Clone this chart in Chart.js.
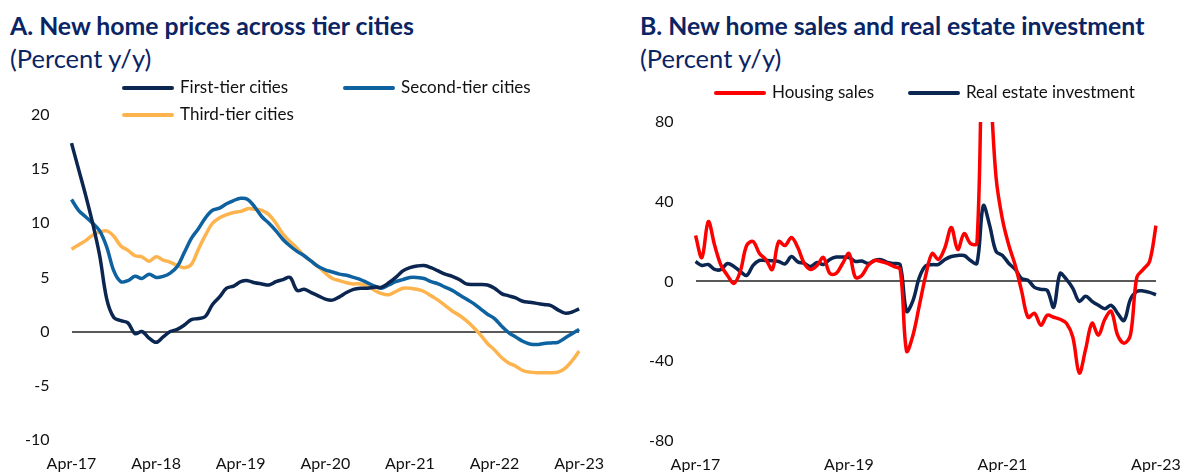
<!DOCTYPE html>
<html>
<head>
<meta charset="utf-8">
<script src="https://cdn.jsdelivr.net/npm/chart.js@4.4.1/dist/chart.umd.min.js"></script>
<style>
  html, body { margin: 0; padding: 0; background: #fff; overflow: hidden; }
  body { width: 1180px; height: 472px; position: relative; font-family: Lato, "Noto Sans", sans-serif; }
  .title { position: absolute; color: #0B2464; font-weight: 700; font-size: 24.8px; white-space: nowrap; line-height: 1; }
  .sub { position: absolute; color: #0B2464; font-size: 25.5px; white-space: nowrap; line-height: 1; }
  canvas { position: absolute; top: 0; }
  .leg { position: absolute; font-size: 17px; color: #111; white-space: nowrap; line-height: 1; }
  .leg span.swatch { display: inline-block; width: 52px; height: 4px; border-radius: 2px; vertical-align: middle; margin-right: 6px; position: relative; top: -1px; }
</style>
</head>
<body>
<div class="title" style="left:10px; top:14px;">A. New home prices across tier cities</div>
<div class="sub" style="left:10px; top:46px;">(Percent y/y)</div>
<div class="title" style="left:640px; top:14px;">B. New home sales and real estate investment</div>
<div class="sub" style="left:640px; top:46px;">(Percent y/y)</div>

<canvas id="chartA" width="610" height="479" style="left:0px;"></canvas>
<canvas id="chartB" width="580" height="480" style="left:620px;"></canvas>

<script>
// Monthly categories, Apr-17 .. Apr-23
const monthNames = ['Jan', 'Feb', 'Mar', 'Apr', 'May', 'Jun', 'Jul', 'Aug', 'Sep', 'Oct', 'Nov', 'Dec'];
const months = [];
for (let y = 17; y <= 23; y++) {
  for (let m = 0; m < 12; m++) {
    if ((y === 17 && m < 3) || (y === 23 && m > 3)) continue;
    months.push(monthNames[m] + '-' + y);
  }
}

// Panel A: new home prices (percent y/y)
const firstTier = [
  17.4, 15.0, 12.6, 10.0, 7.0, 3.0, 1.3, 1.0, 0.8, -0.2, 0.0, -0.6,
  -1.0, -0.5, 0.0, 0.2, 0.6, 1.1, 1.2, 1.4, 2.5, 3.2, 4.0, 4.2,
  4.6, 4.7, 4.5, 4.4, 4.3, 4.6, 4.8, 5.0, 3.8, 3.9, 3.6, 3.3,
  3.0, 2.9, 3.2, 3.6, 3.9, 4.0, 4.0, 4.1, 4.1, 4.5, 5.0, 5.6,
  5.9, 6.05, 6.1, 5.9, 5.6, 5.3, 5.1, 4.8, 4.4, 4.35, 4.35, 4.3,
  4.0, 3.5, 3.3, 3.1, 2.8, 2.7, 2.6, 2.5, 2.4, 2.0, 1.7, 1.8, 2.1
];
const secondTier = [
  12.2, 11.2, 10.6, 10.0, 9.3, 7.8, 5.6, 4.6, 4.7, 5.1, 4.9, 5.3,
  5.0, 5.1, 5.4, 6.0, 7.3, 8.6, 9.5, 10.5, 11.2, 11.4, 11.8, 12.1,
  12.3, 12.2, 11.5, 10.6, 10.0, 9.3, 8.5, 7.9, 7.4, 7.0, 6.5, 6.0,
  5.7, 5.5, 5.3, 5.2, 5.0, 4.8, 4.5, 4.2, 4.0, 4.3, 4.6, 4.8,
  5.0, 5.0, 4.9, 4.6, 4.4, 4.1, 3.8, 3.4, 3.0, 2.6, 2.1, 1.6,
  1.2, 0.5, -0.1, -0.5, -0.9, -1.15, -1.2, -1.1, -1.05, -1.0, -0.6, -0.2, 0.2
];
const thirdTier = [
  7.6, 8.0, 8.4, 8.9, 9.2, 9.3, 8.8, 7.9, 7.5, 7.0, 6.9, 6.5,
  6.9, 6.6, 6.4, 6.1, 5.9, 6.2, 7.6, 8.9, 10.0, 10.5, 10.8, 11.0,
  11.1, 11.35, 11.3, 11.2, 10.8, 10.0, 9.0, 8.3, 7.7, 7.0, 6.5, 6.0,
  5.4, 4.9, 4.7, 4.5, 4.4, 4.4, 4.2, 3.8, 3.5, 3.4, 3.7, 4.0,
  4.0, 3.9, 3.7, 3.3, 2.9, 2.4, 1.9, 1.5, 1.0, 0.4, -0.3, -1.1,
  -1.7, -2.4, -2.9, -3.2, -3.6, -3.75, -3.8, -3.8, -3.8, -3.75, -3.4, -2.7, -1.8
];

// Panel B: sales and investment (percent y/y)
const housingSales = [
  23, 12, 30, 18, 8, 3, -1, 5, 18, 20, 14, 11,
  6, 20, 18, 22, 17, 9, 6, 8, 12, 4, 4, 9,
  14, 2, 3, 8, 10.5, 10, 9, 7.5, 6, -35, -27, -12,
  3, 14, 11, 17, 27, 16, 24, 19, 19, 125, 100, 52,
  31, 18, 8, -5, -18, -16, -22, -17, -18, -19, -21, -28,
  -46, -34, -21, -27, -19, -15, -27, -31, -27, 2, 6, 10, 28
];
const investment = [
  10, 8, 8.5, 6, 6, 9, 7.5, 5, 3, 8, 10.5, 10.5,
  10.4, 10, 8.8, 12.5, 9.8, 9, 7.5, 9.5, 8.5, 11, 12.2, 12.2,
  12.0, 10, 10.2, 9, 10.5, 10.9, 9.5, 9, 8.3, -15, -9.6, 2,
  7.8, 8.4, 8.6, 11, 12.5, 13, 13, 10.5, 9, 38, 28, 15,
  13, 9, 6, 1.4, 0.5, -3, -4, -4.5, -13, 4, 1, -3.5,
  -10, -7.5, -10, -12, -13.7, -12, -16, -19.6, -9, -5, -4.8, -5.5, -6.7
];

const tickFont = { family: 'Lato', size: 16 };

function lineSet(label, data, color) {
  return { label: label, data: data, borderColor: color, backgroundColor: color,
           borderWidth: 3.5, pointRadius: 0, tension: 0.35, fill: false };
}

function makeOptions(yMin, yMax, step, every, pad) {
  return {
    responsive: false,
    animation: false,
    events: [],
    layout: { padding: pad },
    plugins: { legend: { display: false }, tooltip: { enabled: false } },
    scales: {
      x: {
        grid: { display: false },
        border: { display: false },
        ticks: {
          autoSkip: false, maxRotation: 0, padding: 6, color: '#111', font: tickFont,
          callback: function (val, idx) { return idx % every === 0 ? this.getLabelForValue(val) : ''; }
        }
      },
      y: {
        min: yMin, max: yMax,
        border: { display: false },
        grid: {
          drawTicks: false, lineWidth: 2,
          color: ctx => (ctx.tick && ctx.tick.value === 0 ? '#595959' : 'rgba(0,0,0,0)')
        },
        ticks: { stepSize: step, padding: 22, color: '#111', font: tickFont }
      }
    }
  };
}

// Legend from dataset labels/colours
function addLegend(chart, spots) {
  chart.data.datasets.forEach((ds, i) => {
    const el = document.createElement('div');
    el.className = 'leg';
    el.style.left = spots[i][0] + 'px';
    el.style.top = spots[i][1] + 'px';
    el.innerHTML = '<span class="swatch" style="background:' + ds.borderColor + '"></span>' + ds.label;
    document.body.appendChild(el);
  });
}

const chartA = new Chart(document.getElementById('chartA'), {
  type: 'line',
  data: {
    labels: months,
    datasets: [
      lineSet('First-tier cities', firstTier, '#0B2650'),
      lineSet('Second-tier cities', secondTier, '#0E62A0'),
      lineSet('Third-tier cities', thirdTier, '#FDB44E')
    ]
  },
  options: makeOptions(-10, 20, 5, 12, { left: 3, right: 22, top: 115, bottom: 0 })
});
addLegend(chartA, [[122, 78], [343, 78], [122, 105]]);

const chartB = new Chart(document.getElementById('chartB'), {
  type: 'line',
  data: {
    labels: months,
    datasets: [
      lineSet('Housing sales', housingSales, '#FF0000'),
      lineSet('Real estate investment', investment, '#0B2650')
    ]
  },
  options: makeOptions(-80, 80, 40, 24, { left: 7, right: 44, top: 122, bottom: 0 })
});
addLegend(chartB, [[714, 83], [908, 83]]);
</script>
</body>
</html>
